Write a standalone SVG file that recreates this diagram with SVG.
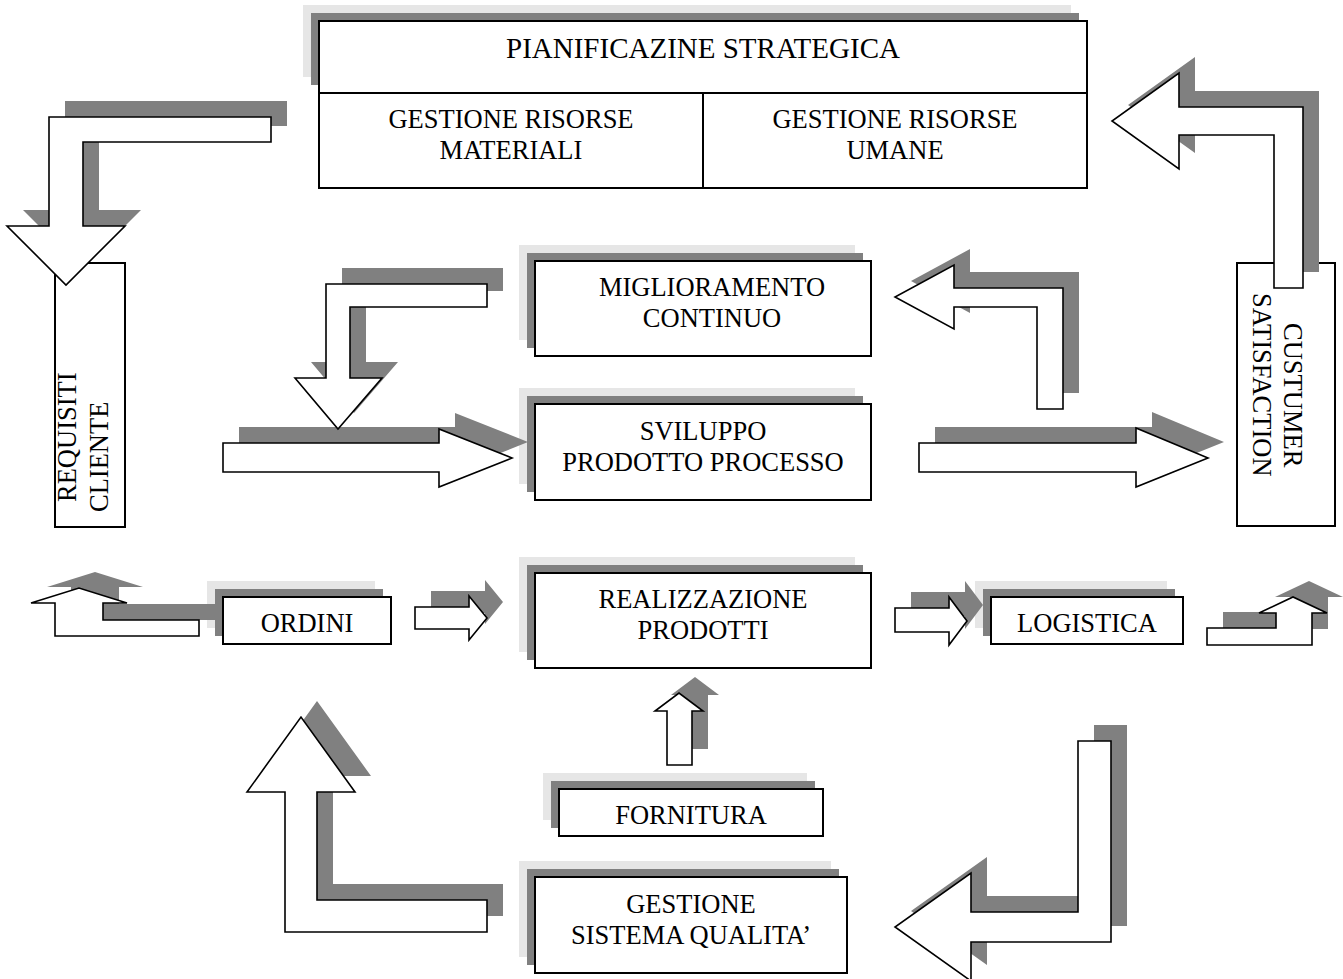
<svg xmlns="http://www.w3.org/2000/svg" width="1343" height="979" viewBox="0 0 1343 979">
<style>
.bx{fill:#fff;stroke:#000;stroke-width:2}
.s1{fill:#e6e6e6}
.s2{fill:#808080}
.ar{fill:#fff;stroke:#000;stroke-width:1.6;stroke-linejoin:miter}
.sh{fill:#808080}
text{font-family:"Liberation Serif","Times New Roman",serif;font-size:26.5px;fill:#000}
.c{text-anchor:middle}
</style>
<rect width="1343" height="979" fill="#fff"/>

<g id="pianificazione">
<rect class="s1" x="303" y="5" width="768" height="72"/>
<rect class="s2" x="311" y="13" width="768" height="72"/>
<rect class="bx" x="319" y="21" width="768" height="72"/>
<rect class="bx" x="319" y="93" width="384" height="95"/>
<rect class="bx" x="703" y="93" width="384" height="95"/>
<text class="c" x="703" y="58" style="font-size:29px">PIANIFICAZINE STRATEGICA</text>
<text class="c" x="511" y="128">GESTIONE RISORSE</text>
<text class="c" x="511" y="159">MATERIALI</text>
<text class="c" x="895" y="128">GESTIONE RISORSE</text>
<text class="c" x="895" y="159">UMANE</text>
</g>

<g id="requisiti">
<rect class="bx" x="55" y="263" width="70" height="264"/>
<text transform="translate(76,502) rotate(-90)">REQUISITI</text>
<text transform="translate(108,512) rotate(-90)">CLIENTE</text>
</g>

<g id="customer">
<rect class="bx" x="1237" y="263" width="98" height="263"/>
<text transform="translate(1284,323) rotate(90)">CUSTUMER</text>
<text transform="translate(1253,293) rotate(90)">SATISFACTION</text>
</g>

<g id="miglioramento">
<rect class="s1" x="519" y="245" width="336" height="95"/>
<rect class="s2" x="527" y="253" width="336" height="95"/>
<rect class="bx" x="535" y="261" width="336" height="95"/>
<text class="c" x="712" y="296">MIGLIORAMENTO</text>
<text class="c" x="712" y="327">CONTINUO</text>
</g>

<g id="sviluppo">
<rect class="s1" x="519" y="388" width="336" height="96"/>
<rect class="s2" x="527" y="396" width="336" height="96"/>
<rect class="bx" x="535" y="404" width="336" height="96"/>
<text class="c" x="703" y="440">SVILUPPO</text>
<text class="c" x="703" y="471">PRODOTTO PROCESSO</text>
</g>

<g id="realizzazione">
<rect class="s1" x="519" y="557" width="336" height="95"/>
<rect class="s2" x="527" y="565" width="336" height="95"/>
<rect class="bx" x="535" y="573" width="336" height="95"/>
<text class="c" x="703" y="608">REALIZZAZIONE</text>
<text class="c" x="703" y="639">PRODOTTI</text>
</g>

<g id="ordini">
<rect class="s1" x="207" y="581" width="168" height="47"/>
<rect class="s2" x="215" y="589" width="168" height="47"/>
<rect class="bx" x="223" y="597" width="168" height="47"/>
<text class="c" x="307" y="632">ORDINI</text>
</g>

<g id="logistica">
<rect class="s1" x="975" y="581" width="192" height="47"/>
<rect class="s2" x="983" y="589" width="192" height="47"/>
<rect class="bx" x="991" y="597" width="192" height="47"/>
<text class="c" x="1087" y="632">LOGISTICA</text>
</g>

<g id="fornitura">
<rect class="s1" x="543" y="773" width="264" height="47"/>
<rect class="s2" x="551" y="781" width="264" height="47"/>
<rect class="bx" x="559" y="789" width="264" height="47"/>
<text class="c" x="691" y="824">FORNITURA</text>
</g>

<g id="qualita">
<rect class="s1" x="519" y="861" width="312" height="96"/>
<rect class="s2" x="527" y="869" width="312" height="96"/>
<rect class="bx" x="535" y="877" width="312" height="96"/>
<text class="c" x="691" y="913">GESTIONE</text>
<text class="c" x="691" y="944">SISTEMA QUALITA’</text>
</g>

<g id="connectors">
<g id="a1">
<polygon class="sh" transform="translate(16,-16)" points="271,117 49,117 49,226 7,226 66,285 125,226 83,226 83,142 271,142"/>
<polygon class="ar" points="271,117 49,117 49,226 7,226 66,285 125,226 83,226 83,142 271,142"/>
</g>
<g id="a2">
<polygon class="sh" transform="translate(16,-16)" points="1303,288 1303,107 1179,107 1179,73 1112,121 1179,169 1179,135 1274,135 1274,288"/>
<polygon class="ar" points="1303,288 1303,107 1179,107 1179,73 1112,121 1179,169 1179,135 1274,135 1274,288"/>
</g>
<g id="a4">
<polygon class="sh" transform="translate(16,-16)" points="223,443 439,443 439,429 512,458 439,487 439,472 223,472"/>
<polygon class="ar" points="223,443 439,443 439,429 512,458 439,487 439,472 223,472"/>
</g>
<g id="a3">
<polygon class="sh" transform="translate(16,-16)" points="487,284 326,284 326,378 295,378 338,429 382,378 350,378 350,307 487,307"/>
<polygon class="ar" points="487,284 326,284 326,378 295,378 338,429 382,378 350,378 350,307 487,307"/>
</g>
<g id="a5">
<polygon class="sh" transform="translate(16,-16)" points="1063,409 1063,288 954,288 954,265 895,297 954,329 954,307 1037,307 1037,409"/>
<polygon class="ar" points="1063,409 1063,288 954,288 954,265 895,297 954,329 954,307 1037,307 1037,409"/>
</g>
<g id="a6">
<polygon class="sh" transform="translate(16,-16)" points="919,443 1136,443 1136,428 1208,458 1136,487 1136,472 919,472"/>
<polygon class="ar" points="919,443 1136,443 1136,428 1208,458 1136,487 1136,472 919,472"/>
</g>
<g id="a7">
<polygon class="sh" transform="translate(16,-16)" points="199,620 103,620 103,603 127,603 79,588 31,603 55,603 55,636 199,636"/>
<polygon class="ar" points="199,620 103,620 103,603 127,603 79,588 31,603 55,603 55,636 199,636"/>
</g>
<g id="a8">
<polygon class="sh" transform="translate(16,-16)" points="415,607 469,607 469,596 487,618 469,640 469,629 415,629"/>
<polygon class="ar" points="415,607 469,607 469,596 487,618 469,640 469,629 415,629"/>
</g>
<g id="a9">
<polygon class="sh" transform="translate(16,-16)" points="895,608 949,608 949,597 967,621 949,645 949,632 895,632"/>
<polygon class="ar" points="895,608 949,608 949,597 967,621 949,645 949,632 895,632"/>
</g>
<g id="a10">
<polygon class="sh" transform="translate(16,-16)" points="1207,645 1207,628 1276,628 1276,613 1259,613 1293,597 1327,613 1312,613 1312,645"/>
<polygon class="ar" points="1207,645 1207,628 1276,628 1276,613 1259,613 1293,597 1327,613 1312,613 1312,645"/>
</g>
<g id="a11">
<polygon class="sh" transform="translate(16,-16)" points="667,765 667,711 655,711 679,693 703,711 692,711 692,765"/>
<polygon class="ar" points="667,765 667,711 655,711 679,693 703,711 692,711 692,765"/>
</g>
<g id="a12">
<polygon class="sh" transform="translate(16,-16)" points="487,932 285,932 285,792 247,792 301,717 355,792 317,792 317,900 487,900"/>
<polygon class="ar" points="487,932 285,932 285,792 247,792 301,717 355,792 317,792 317,900 487,900"/>
</g>
<g id="a13">
<polygon class="sh" transform="translate(16,-16)" points="1078,741 1111,741 1111,942 971,942 971,981 895,927 971,873 971,912 1078,912"/>
<polygon class="ar" points="1078,741 1111,741 1111,942 971,942 971,981 895,927 971,873 971,912 1078,912"/>
</g>
</g>
</svg>
